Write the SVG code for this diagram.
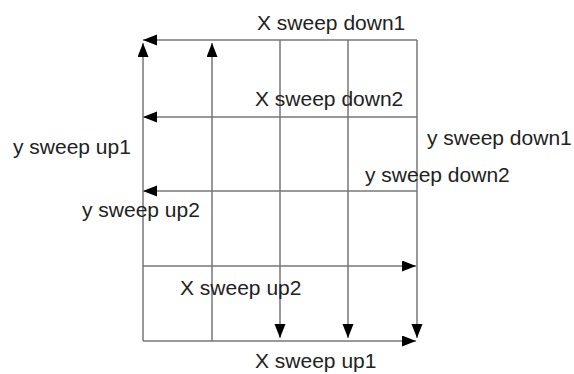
<svg xmlns="http://www.w3.org/2000/svg" width="574" height="374" viewBox="0 0 574 374">
<style>
.ln{stroke:#777;stroke-width:1.5;fill:none}
.ar{marker-end:url(#ah)}
.lb{font-family:"Liberation Sans",Arial,sans-serif;font-size:21px;fill:#222}
</style>
<defs>
<marker id="ah" markerUnits="userSpaceOnUse" markerWidth="16" markerHeight="12" refX="14" refY="5.5" orient="auto">
<path d="M0,0 L14,5.5 L0,11 Z" fill="#000"/>
</marker>
</defs>
<rect width="574" height="374" fill="#fff"/>
<g id="connectors">
<line class="ln ar" x1="417" y1="40" x2="143" y2="40"/>
<line class="ln ar" x1="417" y1="117" x2="143" y2="117"/>
<line class="ln ar" x1="417" y1="191" x2="143" y2="191"/>
<line class="ln ar" x1="143" y1="266" x2="416" y2="266"/>
<line class="ln ar" x1="143" y1="341" x2="416" y2="341"/>
<line class="ln ar" x1="143" y1="341" x2="143" y2="43"/>
<line class="ln ar" x1="212" y1="341" x2="212" y2="43"/>
<line class="ln ar" x1="280" y1="40" x2="280" y2="338"/>
<line class="ln ar" x1="348" y1="40" x2="348" y2="338"/>
<line class="ln ar" x1="417" y1="40" x2="417" y2="338"/>
</g>
<g id="labels">
<text class="lb" x="257" y="30">X sweep down1</text>
<text class="lb" x="255" y="106">X sweep down2</text>
<text class="lb" x="13" y="154">y sweep up1</text>
<text class="lb" x="82" y="217">y sweep up2</text>
<text class="lb" x="427" y="145">y sweep down1</text>
<text class="lb" x="365" y="182">y sweep down2</text>
<text class="lb" x="180" y="295">X sweep up2</text>
<text class="lb" x="255" y="368">X sweep up1</text>
</g>
</svg>
